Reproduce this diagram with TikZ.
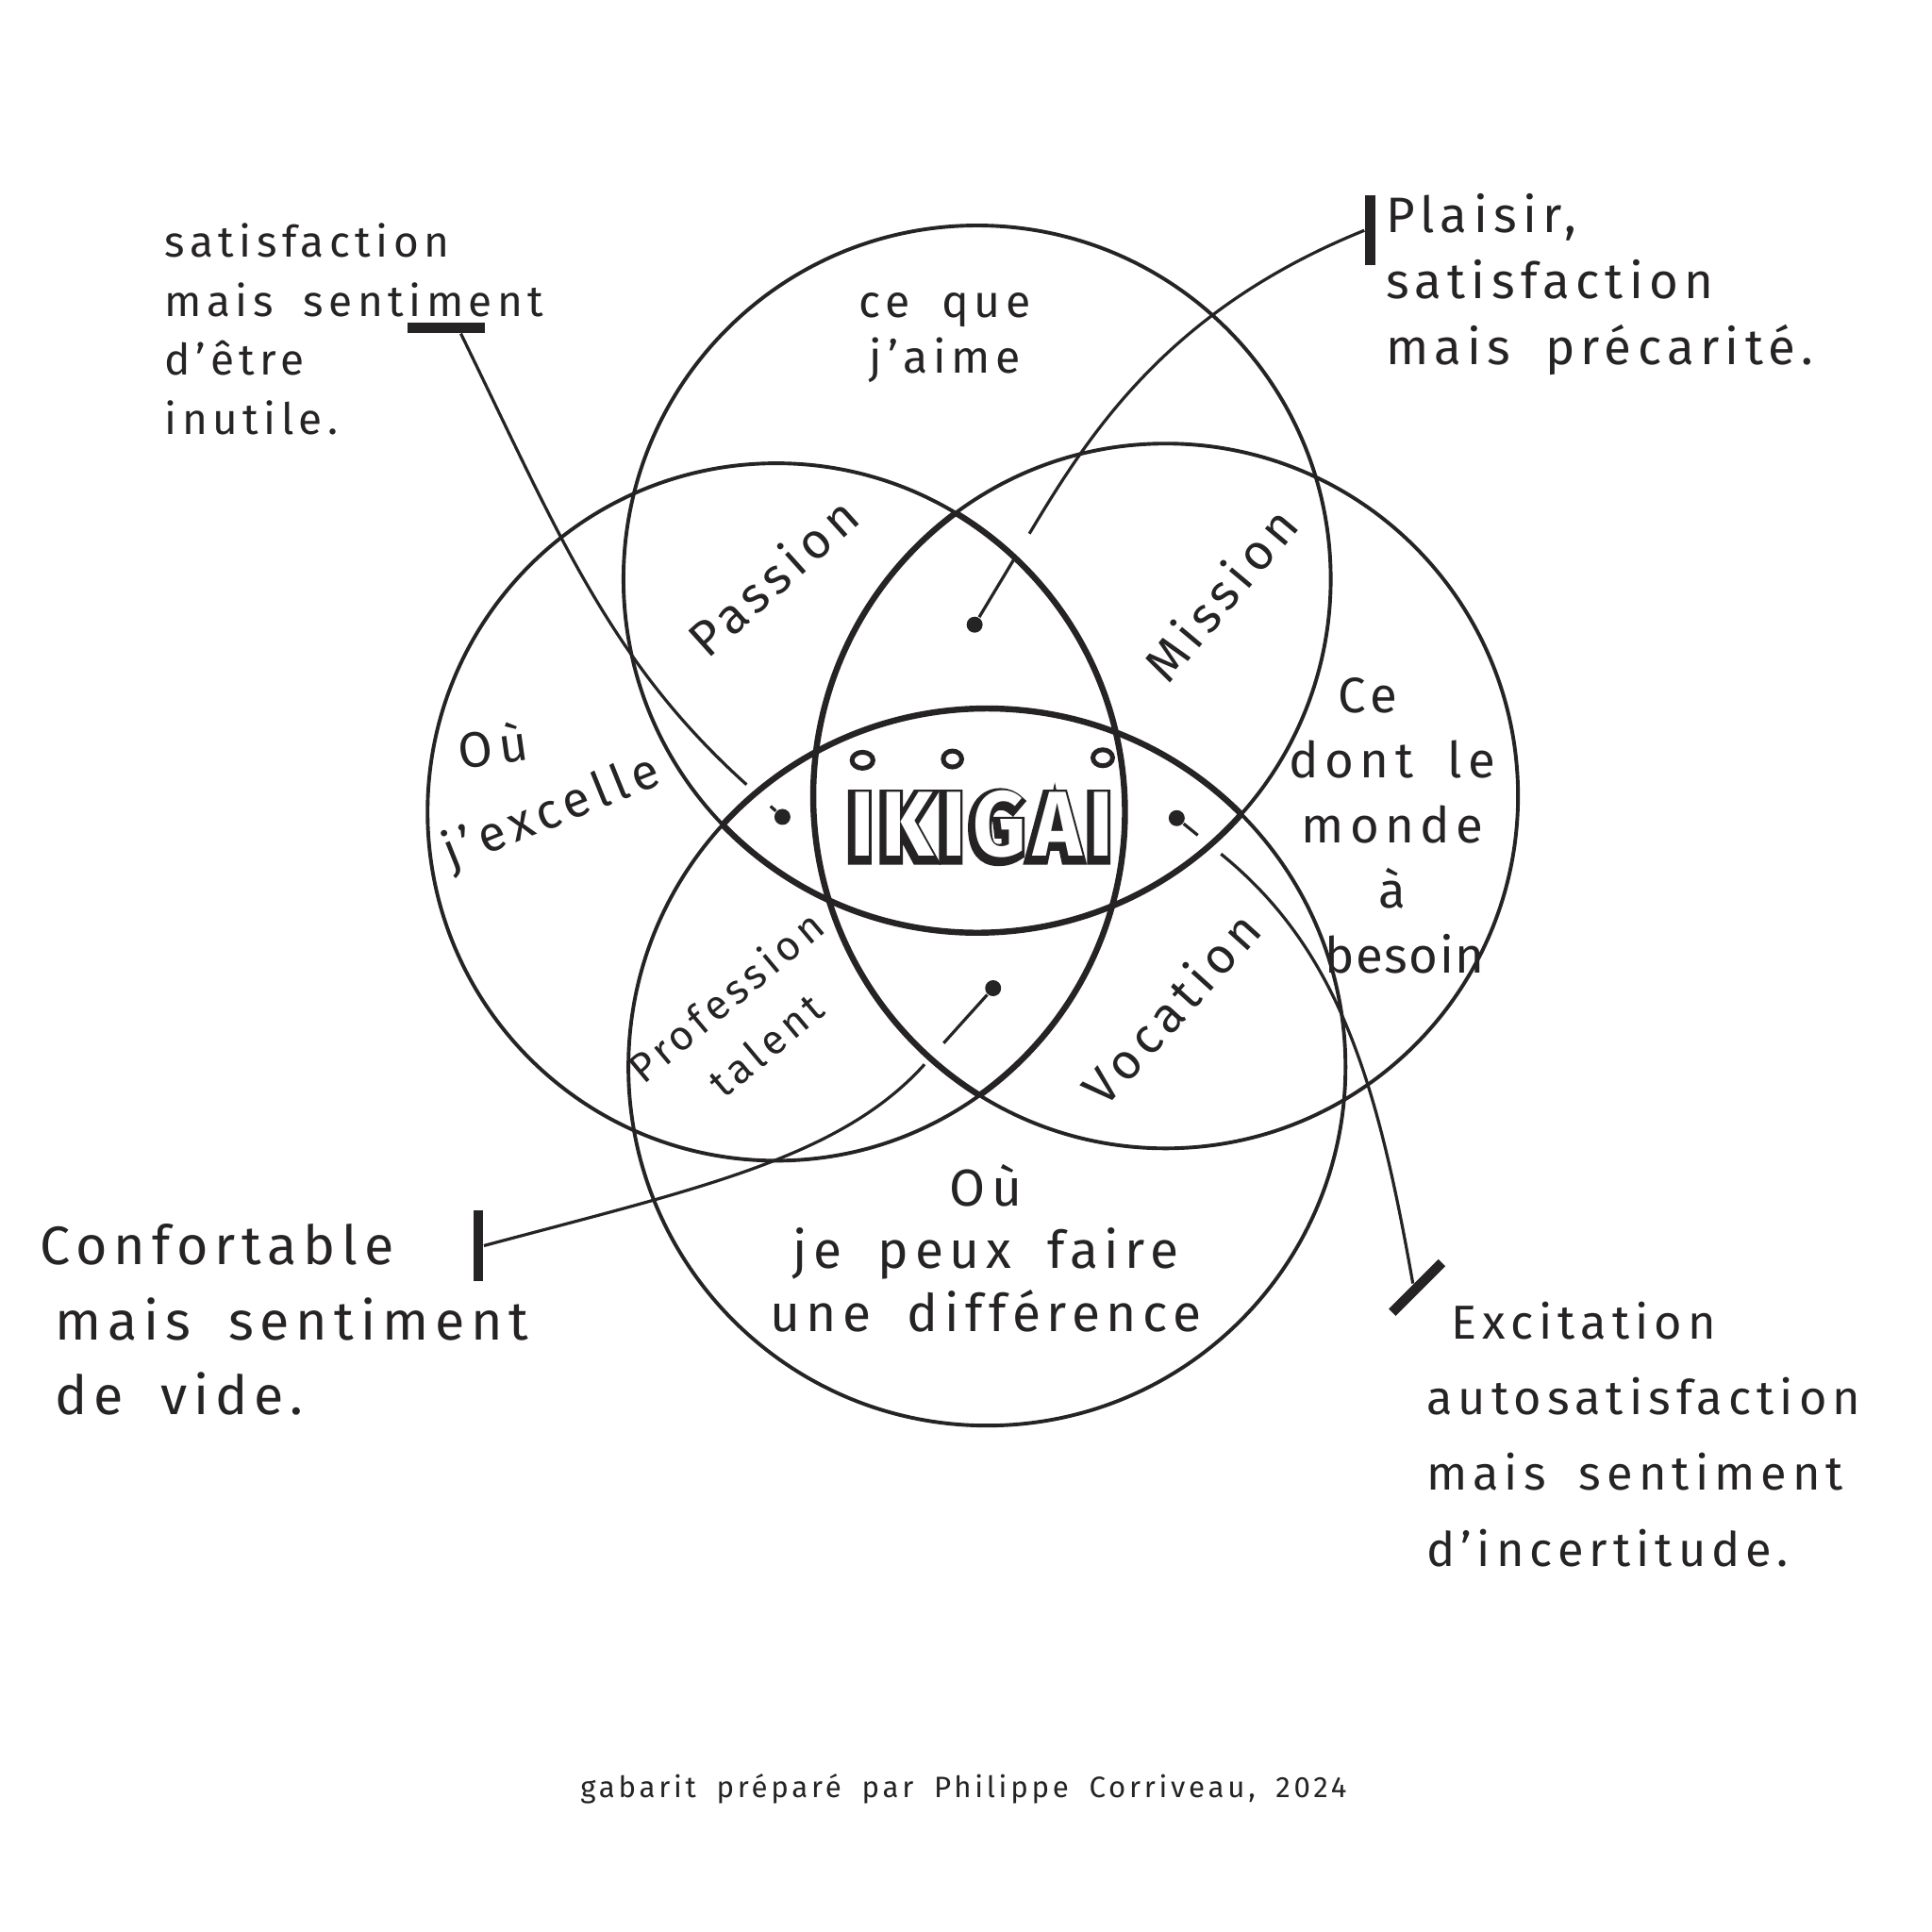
\documentclass[tikz,border=0pt]{standalone}
\usepackage{fontspec}
\setmainfont{Fira Sans}[LetterSpace=12, WordSpace=1.8]
\newfontfamily\titlefont{Fira Sans}[LetterSpace=9]
\usetikzlibrary{calc,positioning}
\definecolor{Ink}{HTML}{262324}
\tikzset{
  circline/.style={line width=0.85pt, draw=Ink},
  lensline/.style={line width=1.4pt, draw=Ink},
  hand/.style={text=Ink, inner sep=0pt, align=center},
  note/.style={hand, align=left, anchor=west},
  pointer/.style={line width=0.7pt, draw=Ink},
  knob/.style={circle, fill=Ink, minimum size=1.3mm, inner sep=0pt},
  tbar/.style={fill=Ink, inner sep=0pt},
  ringdot/.style={line width=1.1pt, draw=Ink, fill=white},
  titlefnt/.style={font=\fontsize{19}{19}\selectfont\titlefont\bfseries, inner sep=0pt,
                   transform shape, yscale=1.12},
}

\begin{document}
\begin{tikzpicture}[
  small/.style={font=\fontsize{10.5}{12.8}\selectfont},
  mid/.style={font=\fontsize{11.5}{15}\selectfont},
  big/.style={font=\fontsize{12.5}{17.4}\selectfont},
]
\path[fill=white] (0,0) rectangle (15.68,-15.68);
% ---------- the four circles
\coordinate (cTop) at (7.93,-4.70);
\coordinate (cBot) at (8.01,-8.66);
\coordinate (cLeft) at (6.30,-6.59);
\coordinate (cRight) at (9.46,-6.46);
\foreach \c/\r in {cTop/2.87,cBot/2.91,cLeft/2.83,cRight/2.86}
  \draw[circline] (\c) circle (\r);
% ---------- pointers to the notes
\node[tbar, minimum width=6.3mm, minimum height=0.8mm] (barTL) at (3.62,-2.66) {};
\node[tbar, minimum width=0.8mm, minimum height=5.7mm] (barTR) at (11.12,-1.87) {};
\node[tbar, minimum width=0.8mm, minimum height=5.8mm] (barBL) at (3.88,-10.11) {};
\node[tbar, minimum width=5.7mm, minimum height=0.8mm, rotate=45] (barBR) at (11.50,-10.45) {};
\node[knob] (dotL) at (6.35,-6.63) {};
\node[knob] (dotT) at (7.91,-5.07) {};
\node[knob] (dotR) at (9.55,-6.64) {};
\node[knob] (dotB) at (8.06,-8.02) {};
\draw[pointer, shorten >=3.2mm] ([xshift=1.2mm]barTL.south) to[out=-64, in=138] (dotL);
\draw[pointer] (dotL) -- ++(138:1.3mm);
\draw[pointer, shorten >=7.9mm] (barTR.west) to[out=202, in=59] (dotT);
\draw[pointer] (dotT) -- ++(59:6.3mm);
\draw[pointer, shorten >=7.6mm] (barBL.east) to[out=15, in=228] (dotB);
\draw[pointer] (dotB) -- ++(228:6mm);
\draw[pointer, shorten >=3.9mm] (barBR.north) to[out=100, in=-39] (dotR);
\draw[pointer] (dotR) -- ++(-39:2.2mm);
% ---------- lens outlines
\begin{scope}
  \clip (cLeft) circle (2.83);
  \draw[lensline] (cRight) circle (2.86);
\end{scope}
\begin{scope}
  \clip (cRight) circle (2.86);
  \draw[lensline] (cLeft) circle (2.83);
\end{scope}
\begin{scope}
  \clip (cTop) circle (2.87);
  \draw[lensline] (cBot) circle (2.91);
\end{scope}
\begin{scope}
  \clip (cBot) circle (2.91);
  \draw[lensline] (cTop) circle (2.87);
\end{scope}
% ---------- centre title (inked outline, then white letters)
\node[titlefnt, text=Ink] (kOutline) at (7.947,-6.713) {\addfontfeature{FakeBold=12}IKIGAI};
\node[titlefnt, text=white] (kTitle) at (7.97,-6.69) {IKIGAI};
\draw[ringdot] (7.00,-6.17) ellipse (0.085 and 0.065);
\draw[ringdot] (7.73,-6.16) ellipse (0.075 and 0.065);
\draw[ringdot] (8.95,-6.15) ellipse (0.08 and 0.065);
% ---------- circle titles
\node[hand, small] (tLove) at (7.67,-2.74) {ce que\\j'aime};
\node[hand, mid, rotate=8] (tGoodA) at (4.00,-6.05) {Où};
\node[hand, mid, rotate=22] (tGoodB) at (4.48,-6.60) {j'excelle};
\node[hand, mid] (tNeed) at (11.30,-6.70) {Ce\hspace*{4mm}\\dont le\\monde\\à\\\hspace*{2mm}{\addfontfeature{LetterSpace=3}besoin}};
\node[hand, font=\fontsize{12}{14.5}\selectfont] (tPaid) at (8.00,-10.13) {Où\\je peux faire\\une différence};
% ---------- petals
\node[hand, mid, rotate=42] (pPassion) at (6.27,-4.68) {Passion};
\node[hand, mid, rotate=50] (pMission) at (9.90,-4.82) {Mission};
\node[hand, font=\fontsize{9.5}{14.5}\selectfont, rotate=40] (pProf) at (6.05,-8.28) {Profession\\talent};
\node[hand, mid, rotate=48] (pVocation) at (9.50,-8.18) {Vocation};
% ---------- notes
\node[note, font=\fontsize{10}{13.6}\selectfont] (nUseless) at (1.33,-2.67) {satisfaction\\mais sentiment\\d'être\\inutile.};
\node[note, font=\fontsize{11.5}{15.3}\selectfont] (nPrecarious) at (11.24,-2.31) {Plaisir,\\satisfaction\\mais précarité.};
\node[note, big] (nEmpty) at (0.32,-10.71) {Confortable\\\hspace*{1.2mm}mais sentiment\\\hspace*{1.2mm}de vide.};
\node[note, font=\fontsize{11}{17.5}\selectfont] (nUncertain) at (11.57,-11.64) {\hspace*{2mm}Excitation\\autosatisfaction\\mais sentiment\\d'incertitude.};
% ---------- credit
\node[hand, font=\fontsize{6.8}{8}\selectfont] (credit) at (7.82,-14.52) {gabarit préparé par Philippe Corriveau, 2024};
\end{tikzpicture}
\end{document}
